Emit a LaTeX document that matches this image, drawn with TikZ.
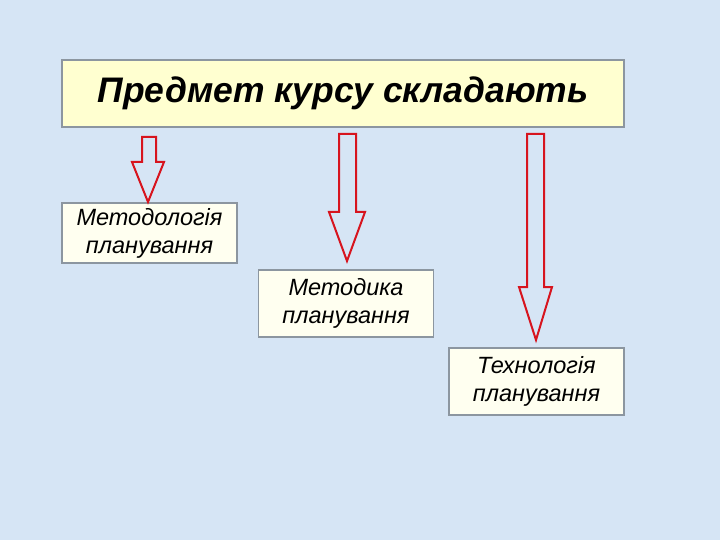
\documentclass[tikz,border=0pt]{standalone}
\usepackage{fontspec}
\setmainfont{Liberation Sans}
\definecolor{bgblue}{RGB}{214,229,245}
\definecolor{titlefill}{RGB}{255,255,208}
\definecolor{boxfill}{RGB}{255,255,240}
\definecolor{boxline}{RGB}{140,150,160}
\definecolor{arrred}{RGB}{215,20,30}
\begin{document}
\begin{tikzpicture}[x=1pt,y=-1pt,
  titlebox/.style={draw=boxline,line width=1.5pt,fill=titlefill,minimum width=562pt,minimum height=67pt,inner sep=0pt,font=\fontsize{35.5}{40}\selectfont\bfseries\itshape},
  itembox/.style={draw=boxline,line width=1.5pt,fill=boxfill,minimum width=175pt,inner sep=0pt,align=center,font=\fontsize{23.5}{28}\selectfont\itshape},
  blockarrow/.style={draw=arrred,line width=2pt,line join=miter}]
\fill[bgblue] (0,0) rectangle (720,540);
\useasboundingbox (0,0) rectangle (720,540);
\node[titlebox] (title) at (343,93.5) {Предмет курсу складають};
\node[itembox,minimum height=60pt] (m1) at (149.5,233) {Методологія\\планування};
\node[itembox,minimum height=67pt] (m2) at (346,303.5) {Методика\\планування};
\node[itembox,minimum height=67pt] (m3) at (536.5,381.5) {Технологія\\планування};
% block arrows
\draw[blockarrow] (142,137) -- (156,137) -- (156,162) -- (164,162) -- (148,202) -- (132,162) -- (142,162) -- cycle;
\draw[blockarrow] (339,134) -- (356,134) -- (356,212) -- (365,212) -- (347,261) -- (329,212) -- (339,212) -- cycle;
\draw[blockarrow] (527,134) -- (544,134) -- (544,287) -- (552,287) -- (536,340) -- (519,287) -- (527,287) -- cycle;
\end{tikzpicture}
\end{document}
